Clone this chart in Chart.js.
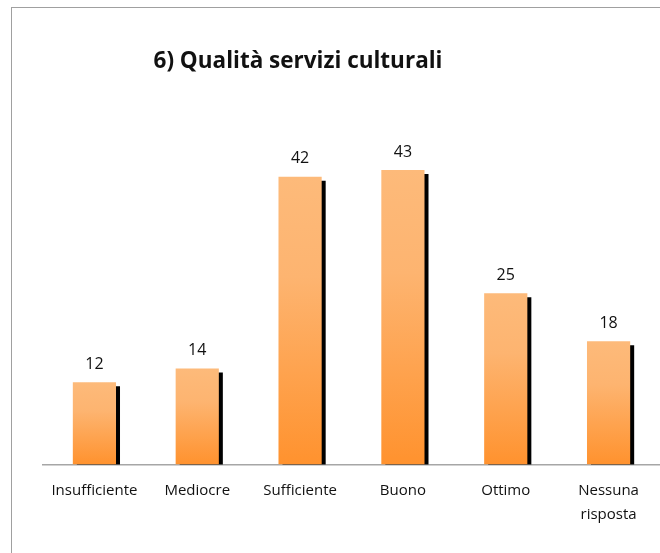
<!DOCTYPE html>
<html>
<head>
<meta charset="utf-8">
<script src="https://cdn.jsdelivr.net/npm/chart.js@4"></script>
<style>
    html, body { margin: 0; padding: 0; background: #fff; }
    #wrap { position: relative; width: 660px; height: 553px; overflow: hidden; }
    #frame { position: absolute; left: 11px; top: 7px; width: 700px; height: 600px; border: 1px solid #A0A0A0; box-sizing: border-box; }
    #title { position: absolute; left: 0; width: 596px; top: 44px; text-align: center;
             font-family: 'Open Sans', sans-serif; font-weight: bold; font-size: 22.5px; color: #111; }
    #chart { position: absolute; left: 0; top: 0; }
</style>
</head>
<body>
<div id="wrap">
    <div id="frame"></div>
    <canvas id="chart" width="660" height="553"></canvas>
    <div id="title">6) Qualità servizi culturali</div>
</div>
<script>
// dati del grafico
const categories = ['Insufficiente', 'Mediocre', 'Sufficiente', 'Buono', 'Ottimo', ['Nessuna', 'risposta']];
const values = [12, 14, 42, 43, 25, 18];
const yMax = 50;

// ombra nera sotto le barre
const barShadow = {
    id: 'barShadow',
    beforeDatasetsDraw(chart) {
        const ctx = chart.ctx;
        ctx.save();
        ctx.shadowColor = '#000';
        ctx.shadowOffsetX = 4;
        ctx.shadowOffsetY = 4;
        ctx.shadowBlur = 0;
    },
    afterDatasetsDraw(chart) {
        chart.ctx.restore();
    }
};

// etichette valori sopra le barre
const valueLabels = {
    id: 'valueLabels',
    afterDatasetsDraw(chart) {
        const ctx = chart.ctx;
        const meta = chart.getDatasetMeta(0);
        ctx.save();
        ctx.font = '16px "Open Sans", sans-serif';
        ctx.fillStyle = '#111';
        ctx.textAlign = 'center';
        ctx.textBaseline = 'bottom';
        meta.data.forEach((bar, i) => {
            ctx.fillText(values[i], bar.x, bar.y - 10);
        });
        ctx.restore();
    }
};

function barGradient(context) {
    const chart = context.chart;
    const y = chart.scales.y;
    if (!y || context.raw === undefined) return '#FDB470';
    const top = y.getPixelForValue(context.raw);
    const bottom = y.getPixelForValue(0);
    if (!isFinite(top) || !isFinite(bottom) || top === bottom) return '#FDB470';
    const g = chart.ctx.createLinearGradient(0, top, 0, bottom);
    g.addColorStop(0, '#FDBA7A');
    g.addColorStop(0.35, '#FDB470');
    g.addColorStop(1, '#FF922E');
    return g;
}

const ctx = document.getElementById('chart').getContext('2d');
new Chart(ctx, {
    type: 'bar',
    data: {
        labels: categories,
        datasets: [{
            data: values,
            backgroundColor: barGradient,
            borderWidth: 0,
            categoryPercentage: 0.42,
            barPercentage: 1
        }]
    },
    options: {
        responsive: false,
        animation: false,
        layout: {
            padding: { top: 122, left: 43, right: 0, bottom: 12 }
        },
        scales: {
            x: {
                grid: { display: false, drawTicks: false },
                border: { display: true, color: '#A6A6A6', width: 1.5 },
                ticks: {
                    color: '#111',
                    padding: 15,
                    maxRotation: 0,
                    autoSkip: false,
                    font: { family: '"Open Sans", sans-serif', size: 15, lineHeight: 1.55 }
                }
            },
            y: {
                display: false,
                min: 0,
                max: yMax
            }
        },
        plugins: {
            legend: { display: false },
            tooltip: { enabled: false }
        }
    },
    plugins: [barShadow, valueLabels]
});
</script>
</body>
</html>
